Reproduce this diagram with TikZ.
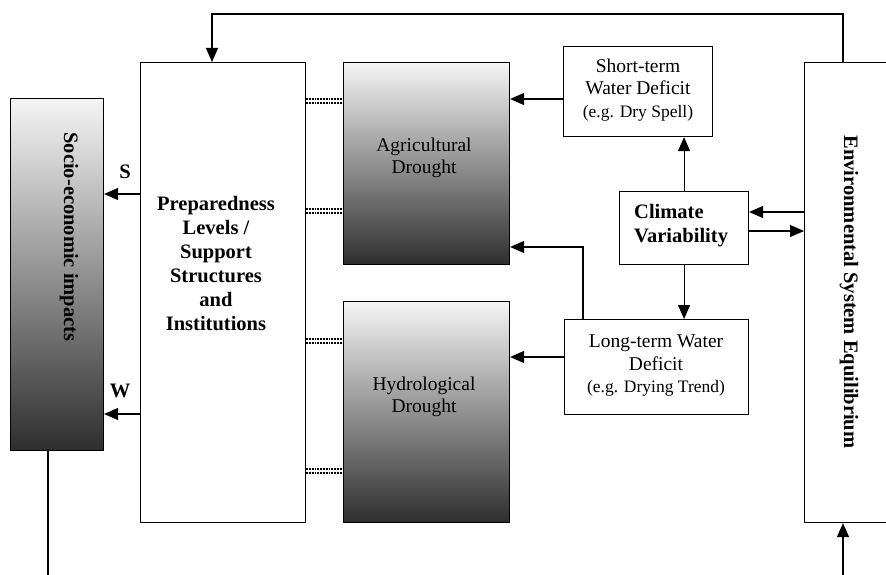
\documentclass[tikz,border=0pt]{standalone}
\usepackage{fontspec}
\setmainfont{Liberation Serif}
\usetikzlibrary{arrows.meta}
\begin{document}
\begin{tikzpicture}[x=1pt,y=-1pt,
  box/.style={draw, line width=1.1pt, inner sep=0pt, anchor=north west, fill=white},
  grad/.style={box, top color=white!96!black, bottom color=black!82},
  txt/.style={font=\fontsize{19.5}{22.5}\selectfont, align=center, inner sep=0pt},
  btxt/.style={txt, font=\fontsize{20.5}{24}\selectfont\bfseries},
  arr/.style={line width=1.1pt, -{Triangle[length=14pt,width=12pt]}},
  conn/.style={line width=1.1pt},
  dbl/.style={line width=1.8pt, black, dash pattern=on 1.8pt off 1pt}
]
\useasboundingbox (0,0) rectangle (886,575);
% boxes
\node[grad, minimum width=93pt, minimum height=352pt] (socio) at (10,98) {};
\node[box, minimum width=165pt, minimum height=460pt] (prep) at (140,62) {};
\node[grad, minimum width=166pt, minimum height=202pt] (agri) at (343,62) {};
\node[grad, minimum width=166pt, minimum height=221pt] (hydro) at (343,301) {};
\node[box, minimum width=149pt, minimum height=90pt] (short) at (563,46) {};
\node[box, minimum width=129pt, minimum height=73pt] (clim) at (619,191) {};
\node[box, minimum width=184pt, minimum height=95pt] (long) at (564,319) {};
\node[box, minimum width=130pt, minimum height=460pt] (env) at (804,62) {};
% texts
\node[btxt, rotate=-90] (sociot) at (69,237) {Socio-economic impacts};
\node[btxt] (prept) at (216,264) {Preparedness\\Levels /\\Support\\Structures\\and\\Institutions};
\node[txt] (agrit) at (424,158) {Agricultural\\Drought};
\node[txt] (hydrot) at (424,397) {Hydrological\\Drought};
\node[txt] (shortt) at (638,90) {Short-term\\Water Deficit\\{\fontsize{17.5}{22.5}\selectfont(e.g. Dry Spell)}};
\node[btxt, align=left, anchor=west] (climt) at (634,226) {Climate\\Variability};
\node[txt] (longt) at (656,366) {Long-term Water\\Deficit\\{\fontsize{17.5}{22.5}\selectfont(e.g. Drying Trend)}};
\node[btxt, rotate=-90] (envt) at (849,292) {Environmental System Equilibrium};
\node[btxt] (slab) at (125,172) {S};
\node[btxt] (wlab) at (120,391) {W};
% connectors
\coordinate (t1) at (843,14);
\coordinate (t2) at (212,14);
\draw[arr] (t1 |- env.north) -- (t1) -- (t2) -- (t2 |- prep.north);
\coordinate (b1) at (843,575);
\draw[arr] (b1) -- (b1 |- env.south);
\coordinate (b2) at (48,575);
\draw[conn] (b2 |- socio.south) -- (b2);
\coordinate (sy) at (0,194);
\coordinate (wy) at (0,414);
\draw[arr] (prep.west |- sy) -- (socio.east |- sy);
\draw[arr] (prep.west |- wy) -- (socio.east |- wy);
\coordinate (sty) at (0,99);
\draw[arr] (short.west |- sty) -- (agri.east |- sty);
\draw[arr] (clim.north) -- (short.south -| clim.north);
\draw[arr] (clim.south) -- (long.north -| clim.south);
\coordinate (cu) at (0,212);
\coordinate (cd) at (0,231);
\draw[arr] (env.west |- cu) -- (clim.east |- cu);
\draw[arr] (clim.east |- cd) -- (env.west |- cd);
\coordinate (lx) at (583,247);
\draw[arr] (lx |- long.north) -- (lx) -- (agri.east |- lx);
\coordinate (ly) at (0,357);
\draw[arr] (long.west |- ly) -- (hydro.east |- ly);
% double dotted links
\foreach \yy/\tgt in {101/agri, 211/agri, 341/hydro, 471/hydro}{
  \draw[dbl] (prep.east |- 0,\yy-1.8) -- (\tgt.west |- 0,\yy-1.8);
  \draw[dbl] (prep.east |- 0,\yy+1.8) -- (\tgt.west |- 0,\yy+1.8);
}
\end{tikzpicture}
\end{document}
